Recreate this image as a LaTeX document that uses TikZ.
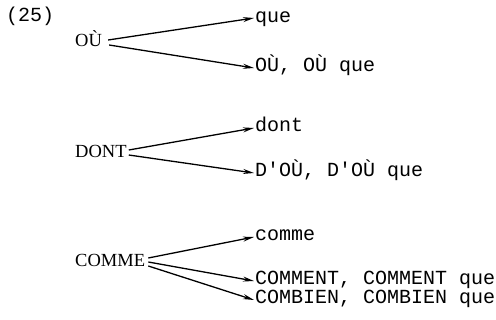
\documentclass[tikz,border=0pt]{standalone}
\usepackage{fontspec}
\setmainfont{Liberation Serif}
\setmonofont{Liberation Mono}
\usetikzlibrary{arrows.meta}
\begin{document}
\begin{tikzpicture}[x=1pt,y=-1pt,
  src/.style={font=\fontsize{18.5}{18.5}\selectfont\rmfamily,inner sep=0pt,anchor=base west},
  tgt/.style={font=\fontsize{20}{20}\selectfont\ttfamily,inner sep=0pt,anchor=base west},
  arr/.style={line width=1.3pt,-{Stealth[length=11pt,width=5pt]}}]
\useasboundingbox (0,0) rectangle (496,320);
\node[tgt] (num) at (6,22) {(25)};
% OU
\node[src] (ou) at (75,47) {OÙ};
\node[tgt] (que) at (255,23) {que};
\node[tgt] (ouque) at (255,72) {OÙ, OÙ que};
\draw[arr] ([xshift=6pt,yshift=7pt]ou.base east) -- ([xshift=-1pt,yshift=5pt]que.base west);
\draw[arr] ([xshift=7pt,yshift=2pt]ou.base east) -- ([xshift=-1pt,yshift=4pt]ouque.base west);
% DONT
\node[src] (dont) at (75,158) {DONT};
\node[tgt] (dontl) at (255,132) {dont};
\node[tgt] (dou) at (255,177) {D'OÙ, D'OÙ que};
\draw[arr] ([xshift=2pt,yshift=8pt]dont.base east) -- ([xshift=-1pt,yshift=4pt]dontl.base west);
\draw[arr] ([xshift=2pt,yshift=3pt]dont.base east) -- ([xshift=-1pt,yshift=4pt]dou.base west);
% COMME
\node[src] (comme) at (75,267) {COMME};
\node[tgt] (commel) at (255,241) {comme};
\node[tgt] (comment) at (255,285) {COMMENT, COMMENT que};
\node[tgt] (combien) at (255,304) {COMBIEN, COMBIEN que};
\draw[arr] ([xshift=3pt,yshift=9pt]comme.base east) -- ([xshift=-1pt,yshift=4pt]commel.base west);
\draw[arr] ([xshift=3pt,yshift=5pt]comme.base east) -- ([xshift=-1pt,yshift=4pt]comment.base west);
\draw[arr] ([xshift=3pt,yshift=1pt]comme.base east) -- ([xshift=-1pt,yshift=4pt]combien.base west);
\end{tikzpicture}
\end{document}
